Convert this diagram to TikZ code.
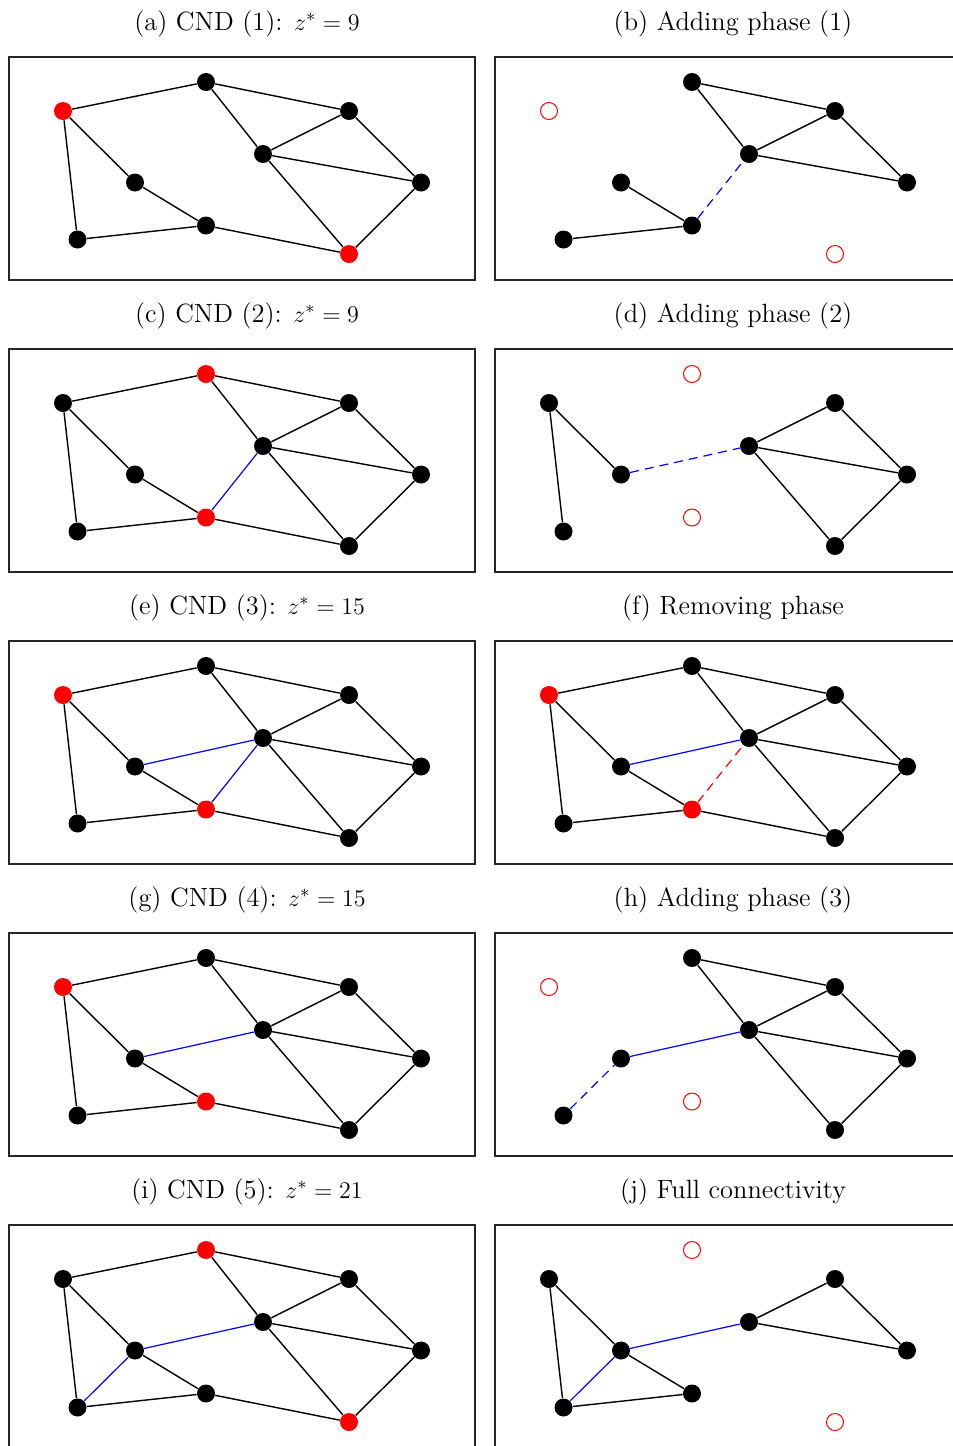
\documentclass[tikz,border=0pt]{standalone}
\begin{document}
\begin{tikzpicture}[x=0.5pt,y=-0.5pt,
  blk/.style={circle,fill=black,inner sep=0pt,minimum size=9pt},
  redn/.style={circle,fill=red,inner sep=0pt,minimum size=9pt},
  opn/.style={circle,draw=red,line width=0.5pt,inner sep=0pt,minimum size=8.5pt},
  sA/.style={blk},sB/.style={blk},sC/.style={blk},sD/.style={blk},sE/.style={blk},
  sF/.style={blk},sG/.style={blk},sH/.style={blk},sI/.style={blk},
  edge/.style={line width=0.7pt,black},
  bedge/.style={line width=0.6pt,blue},
  bdash/.style={line width=0.6pt,blue,dash pattern=on 4.5pt off 3pt},
  rdash/.style={line width=0.6pt,red,dash pattern=on 4.5pt off 3pt},
  frame/.style={line width=0.7pt,draw=black!85},
  ttl/.style={anchor=base,font=\fontsize{13.2}{16}\selectfont,inner sep=0pt}]
\useasboundingbox (0,0) rectangle (953,1446);
\newcommand\gnodes[2]{%
  \draw[frame] (9,57) rectangle (475,280);
  \node[ttl] (#1t) at (247,30.5) {#2};
  \node[sA] (#1A) at (63,111) {};
  \node[sB] (#1B) at (206,82) {};
  \node[sC] (#1C) at (349,111) {};
  \node[sD] (#1D) at (263,154) {};
  \node[sE] (#1E) at (135,182.5) {};
  \node[sF] (#1F) at (421,182.5) {};
  \node[sG] (#1G) at (77.5,239.5) {};
  \node[sH] (#1H) at (206,225.5) {};
  \node[sI] (#1I) at (349,254) {};}
\newcommand\full[1]{%
  \draw[edge] (#1A)--(#1B) (#1B)--(#1C) (#1B)--(#1D) (#1D)--(#1C) (#1C)--(#1F)
    (#1D)--(#1F) (#1D)--(#1I) (#1I)--(#1F) (#1A)--(#1E) (#1E)--(#1H)
    (#1A)--(#1G) (#1G)--(#1H) (#1H)--(#1I);}
% (a)
\begin{scope}[sA/.style={redn},sI/.style={redn}]
  \gnodes{a}{(a) CND (1): $z^* = 9$}
  \full{a}
\end{scope}
% (b)
\begin{scope}[shift={(486,0)},sA/.style={opn},sI/.style={opn}]
  \gnodes{b}{(b) Adding phase (1)}
  \draw[edge] (bB)--(bC) (bB)--(bD) (bD)--(bC) (bC)--(bF) (bD)--(bF) (bE)--(bH) (bG)--(bH);
  \draw[bdash] (bH)--(bD);
\end{scope}
% (c)
\begin{scope}[shift={(0,292)},sB/.style={redn},sH/.style={redn}]
  \gnodes{c}{(c) CND (2): $z^* = 9$}
  \full{c}
  \draw[bedge] (cD)--(cH);
\end{scope}
% (d)
\begin{scope}[shift={(486,292)},sB/.style={opn},sH/.style={opn}]
  \gnodes{d}{(d) Adding phase (2)}
  \draw[edge] (dA)--(dE) (dA)--(dG) (dD)--(dC) (dC)--(dF) (dD)--(dF) (dD)--(dI) (dI)--(dF);
  \draw[bdash] (dE)--(dD);
\end{scope}
% (e)
\begin{scope}[shift={(0,584)},sA/.style={redn},sH/.style={redn}]
  \gnodes{e}{(e) CND (3): $z^* = 15$}
  \full{e}
  \draw[bedge] (eE)--(eD) (eH)--(eD);
\end{scope}
% (f)
\begin{scope}[shift={(486,584)},sA/.style={redn},sH/.style={redn}]
  \gnodes{f}{(f) Removing phase}
  \draw[edge] (fA)--(fB) (fB)--(fC) (fB)--(fD) (fD)--(fC) (fC)--(fF)
    (fD)--(fF) (fD)--(fI) (fI)--(fF) (fA)--(fE) (fE)--(fH)
    (fA)--(fG) (fG)--(fH) (fH)--(fI);
  \draw[bedge] (fE)--(fD);
  \draw[rdash] (fH)--(fD);
\end{scope}
% (g)
\begin{scope}[shift={(0,876)},sA/.style={redn},sH/.style={redn}]
  \gnodes{g}{(g) CND (4): $z^* = 15$}
  \full{g}
  \draw[bedge] (gE)--(gD);
\end{scope}
% (h)
\begin{scope}[shift={(486,876)},sA/.style={opn},sH/.style={opn}]
  \gnodes{h}{(h) Adding phase (3)}
  \draw[edge] (hB)--(hC) (hB)--(hD) (hD)--(hC) (hC)--(hF) (hD)--(hF) (hD)--(hI) (hI)--(hF);
  \draw[bedge] (hE)--(hD);
  \draw[bdash] (hG)--(hE);
\end{scope}
% (i)
\begin{scope}[shift={(0,1168)},sB/.style={redn},sI/.style={redn}]
  \gnodes{i}{(i) CND (5): $z^* = 21$}
  \full{i}
  \draw[bedge] (iE)--(iD) (iG)--(iE);
\end{scope}
% (j)
\begin{scope}[shift={(486,1168)},sB/.style={opn},sI/.style={opn}]
  \gnodes{j}{(j) Full connectivity}
  \draw[edge] (jA)--(jE) (jA)--(jG) (jE)--(jH) (jG)--(jH) (jD)--(jC) (jC)--(jF) (jD)--(jF);
  \draw[bedge] (jG)--(jE) (jE)--(jD);
\end{scope}
\end{tikzpicture}
\end{document}
